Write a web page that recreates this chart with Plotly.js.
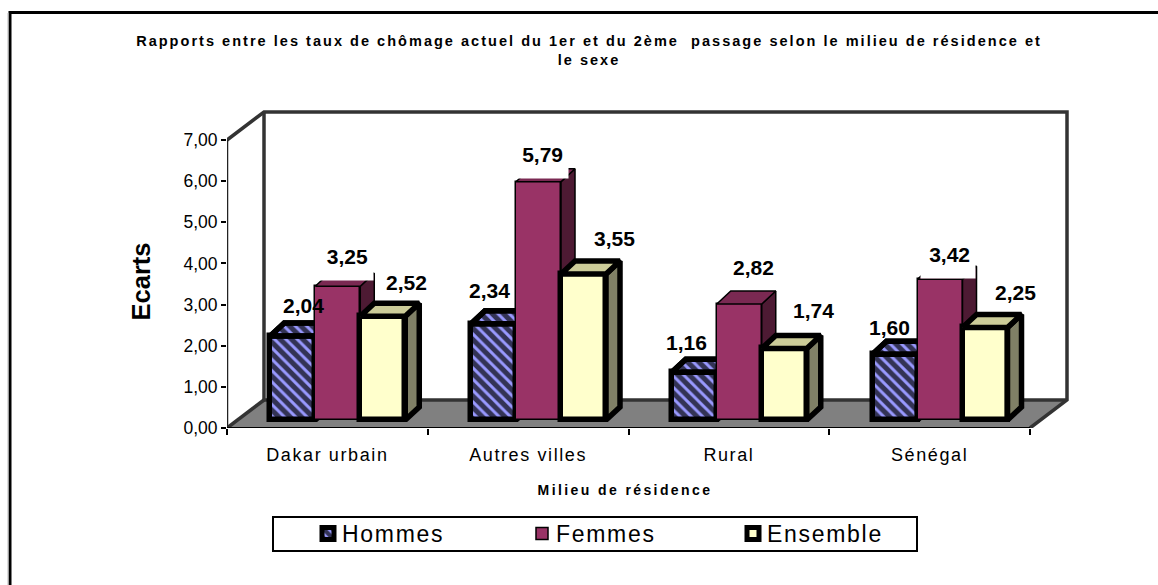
<!DOCTYPE html>
<html><head><meta charset="utf-8">
<script src="https://cdn.plot.ly/plotly-3.0.1.min.js"></script>
<style>
html,body{margin:0;padding:0;background:#fff;overflow:hidden}
.gtitle{letter-spacing:2.03px}
.xtitle{letter-spacing:2.4px;translate:-26px 5px}
.ytitle{translate:-3px 15px}
.xtick text{letter-spacing:1.6px}
.legendtext{letter-spacing:1.7px}
.legend .bg{height:34px !important}
.legend .traces{translate:28px -6px}
.legend .traces:nth-child(3){translate:25px -6px}
.legend .legendpoints{translate:6px 0}
.legend .traces:nth-child(1) .legendbar path,.legend .traces:nth-child(3) .legendbar path{stroke-width:4px !important;stroke-linejoin:round}
</style></head><body>
<div id="chart" style="width:1158px;height:585px"></div>
<script>
const categories=["Dakar urbain","Autres villes","Rural","Sénégal"];
const hommes=[2.04,2.34,1.16,1.60];
const femmes=[3.25,5.79,2.82,3.42];
const ensemble=[2.52,3.55,1.74,2.25];
const yTicks=[0,1,2,3,4,5,6,7];
const titleText="Rapports entre les taux de chômage actuel du 1er et du 2ème  passage selon le milieu de résidence et<br>le sexe";

/* plot box in pixels (a little larger than the 3D box so its walls are not clipped) */
const W=1158,H=585,L=227,R=1075,T=105,B=428;
const pxX=200.75,pxY=288/7;
const xMax=(R-L)/pxX,yMax=(B-T)/pxY;
const wallEnd=840/pxX,wallTop=316/pxY;
const wallDx=37/pxX,wallDy=28/pxY,frontEnd=803/pxX;
const base=8/pxY;              /* bars stand in the middle of the floor */
const barW=45/pxX,firstBar=0.2155;
const depthX=14/pxX,depthY=13/pxY;

function barX(cat,s){return cat+firstBar+(s+0.5)*barW;}
function fmt(v){return v.toFixed(2).replace('.',',');}

function seriesTraces(name,vals,s,opt,ax){
  const xs=vals.map((v,i)=>barX(i,s));
  const out=[];
  const faceX=[],faceY=[],topX=[],topY=[];
  vals.forEach((v,i)=>{
    const x0=xs[i]-barW/2,x1=xs[i]+barW/2,y0=base,y1=base+v;
    faceX.push(x1,x1+depthX,x1+depthX,x1,x1,null);
    faceY.push(y0,y0+depthY,y1+depthY,y1,y0,null);
    topX.push(x0,x0+depthX,x1+depthX,x1,x0,null);
    topY.push(y1,y1+depthY,y1+depthY,y1,y1,null);
  });
  const lineW=opt.lw;
  const mk=(X,Y,fill,pat)=>{
    const t={type:'scatter',mode:'lines',x:X,y:Y,xaxis:ax[0],yaxis:ax[1],fill:'toself',fillcolor:fill,
      line:{color:'#000',width:lineW,shape:'linear'},showlegend:false,hoverinfo:'skip'};
    if(pat)t.fillpattern=pat;
    return t;
  };
  out.push({type:'bar',name:name,x:xs,y:vals,base:vals.map(()=>base),width:barW,xaxis:ax[0],yaxis:ax[1],
    marker:{color:opt.front,line:{color:'#000',width:lineW},pattern:opt.pattern||{shape:''}},
    hovertemplate:name+': %{y:.2f}<extra></extra>'});
  out.push(mk(faceX,faceY,opt.side));
  out.push(mk(topX,topY,opt.top,opt.pattern));
  if(opt.pattern){
    out.push({type:'scatter',mode:'lines',x:topX,y:topY,xaxis:ax[0],yaxis:ax[1],
      line:{color:'#000',width:lineW},showlegend:false,hoverinfo:'skip'});
  }
  return out;
}
const hatch={shape:'\\',fgcolor:'#333355',bgcolor:'#9999ff',size:8,solidity:0.64,fillmode:'replace'};
const traces=[].concat(
  seriesTraces('Hommes',hommes,0,{front:'#9999ff',side:'#33335c',top:'#9999ff',lw:5.5,pattern:hatch},['x','y']),
  seriesTraces('Femmes',femmes,1,{front:'#993366',side:'#4d1a33',top:'#7a2952',lw:1.5},['x2','y2']),
  seriesTraces('Ensemble',ensemble,2,{front:'#ffffcc',side:'#808066',top:'#cccc99',lw:5.5},['x3','y3'])
);

/* value labels: nudges from the top of each bar, in pixels */
const hommesNudge=[[11,-31],[-4,-33],[-8,-30],[-6,-27]];
const femmesNudge=[[10,-29],[3,-27],[14,-36],[9,-25]];
const ensembleNudge=[[24,-34],[31,-35],[29,-38],[30,-35]];
/* the label boxes of some Femmes bars mask the top of the bar: [shift x, lift, text width] */
const femmesMask=[[7.5,5,45],[3.5,3,42],null,[8,0,44]];
const annotations=[];
const labelFont={family:'Liberation Sans, Arial, sans-serif',size:21,color:'#000',weight:'bold'};
function addLabels(vals,s,nudge,mask){
  vals.forEach((v,i)=>{
    const a={x:barX(i,s),y:base+v,xref:'x',yref:'y',text:fmt(v),showarrow:false,
      xshift:nudge[i][0],yshift:-nudge[i][1],xanchor:'center',yanchor:'middle',font:labelFont};
    if(mask&&mask[i]){
      a.bgcolor='#fff';a.borderpad=5;a.width=mask[i][2];a.height=30;a.align='right';a.valign='top';
      a.xshift=mask[i][0];a.yshift=mask[i][1];a.yanchor='bottom';
    }
    annotations.push(a);
  });
}
addLabels(femmes,1,femmesNudge,femmesMask);
addLabels(hommes,0,hommesNudge);
addLabels(ensemble,2,ensembleNudge);

const wall='#333333';
const paperX=p=>(p-L)/(R-L),paperY=p=>(B-p)/(B-T);
const wl={color:wall,width:3.5};
const shapes=[
 {type:'path',xref:'x',yref:'y',layer:'below',fillcolor:'#808080',line:{color:'#000',width:0},
  path:`M0,0 L${wallDx},${wallDy} L${wallEnd},${wallDy} L${frontEnd},0 Z`},
 /* walls */
 {type:'path',xref:'x',yref:'y',layer:'below',line:wl,
  path:`M0,7 L${wallDx},${wallTop} L${wallEnd},${wallTop} L${wallEnd},${wallDy} L${frontEnd},0`},
 {type:'line',xref:'x',yref:'y',layer:'below',x0:wallDx,x1:wallDx,y0:wallTop,y1:wallDy,line:wl},
 {type:'line',xref:'x',yref:'y',layer:'below',x0:wallDx,x1:wallEnd,y0:wallDy,y1:wallDy,line:wl},
 {type:'line',xref:'x',yref:'y',layer:'below',x0:0,x1:wallDx,y0:0,y1:wallDy,line:wl},
 /* front axes */
 {type:'line',xref:'x',yref:'y',layer:'below',x0:0,x1:0,y0:0,y1:7,line:{color:'#222',width:2.5}},
 {type:'line',xref:'x',yref:'y',layer:'below',x0:0,x1:frontEnd,y0:0,y1:0,line:{color:'#000',width:2}},
 /* page frame (top and left only) */
 {type:'line',xref:'paper',yref:'paper',x0:paperX(9),x1:paperX(1158),y0:paperY(12.5),y1:paperY(12.5),line:{color:'#000',width:3}},
 {type:'line',xref:'paper',yref:'paper',x0:paperX(10),x1:paperX(10),y0:paperY(11),y1:paperY(585),line:{color:'#000',width:3}},
 {type:'line',xref:'paper',yref:'paper',x0:paperX(8),x1:paperX(8),y0:paperY(13),y1:paperY(585),line:{color:'#bbb',width:1}}
];

const font='Liberation Sans, Arial, sans-serif';
const overlay=(o)=>({overlaying:o,range:o==='x'?[0,xMax]:[0,yMax],visible:false,fixedrange:true});
const layout={
  width:W,height:H,autosize:false,
  margin:{l:L,r:W-R,t:T,b:H-B,pad:0},
  paper_bgcolor:'#fff',plot_bgcolor:'rgba(0,0,0,0)',
  font:{family:font,color:'#000'},
  barmode:'overlay',bargap:0,
  title:{text:titleText,x:589/W,xanchor:'center',y:1-46/H,yanchor:'top',
    font:{family:font,size:14.5,color:'#000',weight:'bold'}},
  xaxis:{range:[0,xMax],tickmode:'array',tickvals:categories.map((c,i)=>i+0.5),ticktext:categories,
    ticks:'',showgrid:false,zeroline:false,showline:false,fixedrange:true,ticklabelstandoff:14,
    tickfont:{family:font,size:18,color:'#000'},
    minor:{tickmode:'array',tickvals:[0,1,2,3,4],ticks:'outside',ticklen:6,tickwidth:1.5,tickcolor:'#000',showgrid:false},
    title:{text:'Milieu de résidence',font:{family:font,size:14,color:'#000',weight:'bold'},standoff:16}},
  yaxis:{range:[0,yMax],tickmode:'array',tickvals:yTicks,ticktext:yTicks.map(fmt),ticks:'outside',ticklen:5,
    tickwidth:1.5,tickcolor:'#000',showgrid:false,zeroline:false,showline:false,fixedrange:true,
    tickfont:{family:font,size:17.5,color:'#000'},
    title:{text:'Ecarts',font:{family:font,size:25.5,color:'#000',weight:'bold'},standoff:22}},
  xaxis2:overlay('x'),yaxis2:overlay('y'),xaxis3:overlay('x'),yaxis3:overlay('y'),
  shapes:shapes,annotations:annotations,
  showlegend:true,
  legend:{orientation:'h',x:paperX(272),xanchor:'left',y:paperY(516),yanchor:'top',
    bgcolor:'#fff',bordercolor:'#000',borderwidth:2,traceorder:'normal',
    font:{family:font,size:23,color:'#000'},entrywidth:169,entrywidthmode:'pixels',itemwidth:30,tracegroupgap:0}
};
Plotly.newPlot('chart',traces,layout,{displayModeBar:false,responsive:false});
</script></body></html>
